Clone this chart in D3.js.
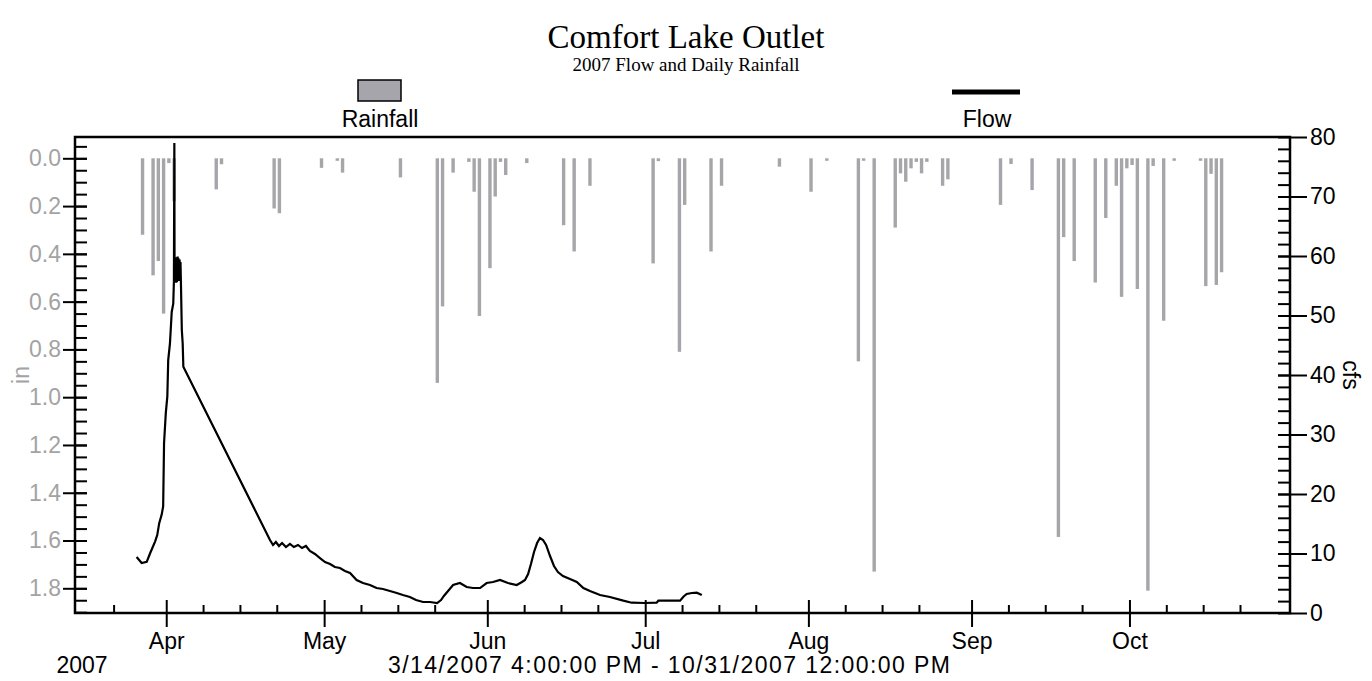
<!DOCTYPE html>
<html>
<head>
<meta charset="utf-8">
<script src="https://cdn.jsdelivr.net/npm/d3@7/dist/d3.min.js"></script>
<style>
  body { margin: 0; background: #fff; }
  svg text { font-family: "Liberation Sans", Arial, sans-serif; }
</style>
</head>
<body>
<div id="chart"></div>
<script>
//Datos - lluvia diaria (in)
const rainDates = ['2007-03-27','2007-03-29','2007-03-30','2007-03-31','2007-04-01','2007-04-02',
  '2007-04-10','2007-04-11','2007-04-21','2007-04-22','2007-04-30','2007-05-03','2007-05-04',
  '2007-05-15','2007-05-22','2007-05-23','2007-05-25','2007-05-28','2007-05-29','2007-05-30',
  '2007-06-01','2007-06-02','2007-06-03','2007-06-04','2007-06-08','2007-06-15','2007-06-17',
  '2007-06-20','2007-07-02','2007-07-03','2007-07-07','2007-07-08','2007-07-13','2007-07-15',
  '2007-07-26','2007-08-01','2007-08-04','2007-08-10','2007-08-11','2007-08-13','2007-08-17',
  '2007-08-18','2007-08-19','2007-08-20','2007-08-21','2007-08-22','2007-08-23','2007-08-26',
  '2007-08-27','2007-09-06','2007-09-08','2007-09-12','2007-09-17','2007-09-18','2007-09-20',
  '2007-09-24','2007-09-26','2007-09-28','2007-09-29','2007-09-30','2007-10-01','2007-10-02',
  '2007-10-04','2007-10-05','2007-10-07','2007-10-09','2007-10-14','2007-10-15','2007-10-16',
  '2007-10-17','2007-10-18'];
const rainValues = [0.32,0.49,0.43,0.65,0.02,0.18,
  0.13,0.025,0.21,0.23,0.04,0.01,0.06,
  0.08,0.94,0.62,0.06,0.015,0.14,0.66,
  0.46,0.16,0.015,0.07,0.02,0.28,0.39,
  0.115,0.44,0.012,0.81,0.195,0.39,0.115,
  0.035,0.14,0.01,0.85,0.01,1.73,0.29,
  0.063,0.098,0.042,0.015,0.063,0.015,0.115,
  0.088,0.195,0.024,0.133,1.585,0.33,0.43,
  0.52,0.25,0.115,0.58,0.042,0.028,0.547,
  1.81,0.032,0.68,0.01,0.01,0.535,0.065,
  0.53,0.477];

//Datos - caudal (cfs)
const flowTimes = ['2007-03-26 09:00','2007-03-27 08:00','2007-03-28 07:00','2007-03-28 22:00',
  '2007-03-29 21:00','2007-03-30 07:00','2007-03-30 16:00','2007-03-31 03:00','2007-03-31 10:00',
  '2007-03-31 14:00','2007-03-31 22:00','2007-04-01 05:00','2007-04-01 09:00','2007-04-01 17:00',
  '2007-04-02 01:00','2007-04-02 08:00','2007-04-02 11:00','2007-04-02 13:00','2007-04-02 14:00',
  '2007-04-02 17:00','2007-04-02 20:00','2007-04-02 23:00','2007-04-03 01:00','2007-04-03 04:00',
  '2007-04-03 06:00','2007-04-03 08:00','2007-04-03 10:00','2007-04-03 13:00','2007-04-03 15:00',
  '2007-04-03 17:00','2007-04-03 19:00','2007-04-03 23:00','2007-04-04 03:00','2007-04-04 06:00',
  '2007-04-20 17:00','2007-04-21 07:00','2007-04-21 20:00','2007-04-22 10:00','2007-04-23 00:00',
  '2007-04-23 18:00','2007-04-24 12:00','2007-04-25 06:00','2007-04-26 01:00','2007-04-26 19:00',
  '2007-04-27 13:00','2007-04-28 07:00','2007-04-29 06:00','2007-04-30 05:00','2007-05-01 04:00',
  '2007-05-02 03:00','2007-05-03 01:00','2007-05-04 00:00','2007-05-04 23:00','2007-05-05 22:00',
  '2007-05-07 04:00','2007-05-08 09:00','2007-05-09 17:00','2007-05-10 23:00','2007-05-12 04:00',
  '2007-05-13 12:00','2007-05-14 19:00','2007-05-15 23:00','2007-05-17 07:00','2007-05-18 11:00',
  '2007-05-19 19:00','2007-05-21 03:00','2007-05-22 11:00','2007-05-23 05:00','2007-05-23 18:00',
  '2007-05-24 13:00','2007-05-25 12:00','2007-05-26 19:00','2007-05-28 02:00','2007-05-29 07:00',
  '2007-05-30 15:00','2007-05-31 21:00','2007-06-02 02:00','2007-06-03 10:00','2007-06-04 22:00',
  '2007-06-06 14:00','2007-06-07 14:00','2007-06-08 04:00','2007-06-08 18:00','2007-06-09 07:00',
  '2007-06-09 21:00','2007-06-10 11:00','2007-06-11 00:00','2007-06-11 14:00','2007-06-12 04:00',
  '2007-06-12 22:00','2007-06-13 16:00','2007-06-14 10:00','2007-06-15 09:00','2007-06-16 17:00',
  '2007-06-18 00:00','2007-06-19 06:00','2007-06-20 12:00','2007-06-22 10:00','2007-06-24 07:00',
  '2007-06-26 20:00','2007-06-28 10:00','2007-06-30 23:00','2007-07-03 04:00','2007-07-03 12:00',
  '2007-07-05 17:00','2007-07-07 15:00','2007-07-08 06:00','2007-07-08 21:00','2007-07-09 21:00',
  '2007-07-10 19:00','2007-07-11 18:00'];
const flowValues = [9.4,8.4,8.6,10.0,
  12.0,13.1,15.1,16.5,17.9,
  28.5,33.6,36.4,42.5,45.3,
  50.6,52.0,55.7,79.0,57.0,
  59.5,55.5,59.8,55.6,59.9,
  56.0,59.6,55.8,59.4,56.2,
  59.0,55.5,47.6,45.3,41.4,
  12.27,11.43,11.93,11.26,11.76,
  11.09,11.60,11.09,11.43,10.92,
  11.26,10.42,9.92,9.24,8.57,
  8.24,7.73,7.56,7.06,6.72,
  5.55,5.04,4.71,4.20,4.03,
  3.70,3.36,3.03,2.69,2.18,
  1.85,1.85,1.68,2.18,2.86,
  3.70,4.71,5.04,4.37,4.20,
  4.20,5.04,5.21,5.55,5.04,
  4.71,5.21,5.55,6.55,8.24,
  10.25,11.76,12.61,12.27,11.43,
  9.58,7.90,6.89,6.22,5.71,
  5.21,4.20,3.70,3.03,2.69,
  2.07,1.73,1.68,1.73,2.07,
  2.07,2.07,2.74,3.19,3.36,
  3.41,3.03];

//Ejes
const leftTicks = [0, 0.2, 0.4, 0.6, 0.8, 1.0, 1.2, 1.4, 1.6, 1.8];
const leftMinor = d3.range(-0.05, 1.92, 0.05);
const rightTicks = [0, 10, 20, 30, 40, 50, 60, 70, 80];
const rightMinor = d3.range(2, 80, 2);
const monthTicks = ['2007-04-01','2007-05-01','2007-06-01','2007-07-01','2007-08-01','2007-09-01','2007-10-01'];
const weekTicks = ['2007-03-22','2007-04-08','2007-04-15','2007-04-22','2007-05-08','2007-05-15','2007-05-22',
  '2007-06-08','2007-06-15','2007-06-22','2007-07-08','2007-07-15','2007-07-22','2007-08-08','2007-08-15',
  '2007-08-22','2007-09-08','2007-09-15','2007-09-22','2007-10-08','2007-10-15','2007-10-22'];

const W = 1372, H = 681;
const mLeft = 75, mRight = 1290, mTop = 137, mBottom = 613;
const GREY_TEXT = '#a3a3a3', BAR = '#a6a6aa';

const parseDay = d3.timeParse('%Y-%m-%d');
const parseTime = d3.timeParse('%Y-%m-%d %H:%M');

const svg = d3.select('#chart').append('svg')
  .attr('width', W).attr('height', H)
  .style('background', '#fff');

let x = d3.scaleTime()
  .domain([new Date(2007, 2, 14, 16), new Date(2007, 9, 31, 12)])
  .range([mLeft, mRight]);

let yRain = d3.scaleLinear().domain([0, 1.8]).range([158.3, 588.3]);
let yFlow = d3.scaleLinear().domain([0, 80]).range([mBottom, mTop]);

//Titulo
svg.append('text').attr('x', 686).attr('y', 48).attr('text-anchor', 'middle')
  .style('font-family', '"Liberation Serif", "Times New Roman", serif').style('font-size', '33px')
  .text('Comfort Lake Outlet');
svg.append('text').attr('x', 686).attr('y', 71).attr('text-anchor', 'middle')
  .style('font-family', '"Liberation Serif", "Times New Roman", serif').style('font-size', '19px')
  .text('2007 Flow and Daily Rainfall');

//Leyenda
svg.append('rect').attr('x', 358).attr('y', 80).attr('width', 43).attr('height', 21)
  .attr('fill', '#a5a5ab').attr('stroke', '#000').attr('stroke-width', 1.5);
svg.append('text').attr('x', 380).attr('y', 127).attr('text-anchor', 'middle')
  .style('font-size', '23px').text('Rainfall');
svg.append('line').attr('x1', 952).attr('x2', 1020).attr('y1', 92).attr('y2', 92)
  .attr('stroke', '#000').attr('stroke-width', 5);
svg.append('text').attr('x', 987).attr('y', 127).attr('text-anchor', 'middle')
  .style('font-size', '23px').text('Flow');

//Barras de lluvia
let rain = rainDates.map((d, i) => ({ date: d3.timeHour.offset(parseDay(d), 12), value: rainValues[i] }));
svg.append('g').selectAll('rect')
  .data(rain)
  .enter()
  .append('rect')
    .attr('x', d => x(d.date) - 1.7)
    .attr('y', yRain(0))
    .attr('width', 3.4)
    .attr('height', d => Math.max(yRain(d.value) - yRain(0), 2.5))
    .attr('fill', BAR);

//Linea de caudal
let flow = flowTimes.map((d, i) => ({ date: parseTime(d), value: flowValues[i] }));
svg.append('path')
  .datum(flow)
  .attr('fill', 'none')
  .attr('stroke', '#000')
  .attr('stroke-width', 2.2)
  .attr('stroke-linejoin', 'miter')
  .attr('d', d3.line().x(d => x(d.date)).y(d => yFlow(d.value)));

//Eje izquierdo
let gL = svg.append('g').attr('transform', 'translate(' + mLeft + ',0)')
  .call(d3.axisLeft(yRain).tickValues(leftTicks).tickFormat(d3.format('.1f'))
    .tickSizeInner(12).tickSizeOuter(0).tickPadding(2));
gL.selectAll('.tick line').attr('x1', 12);
gL.selectAll('.tick text').attr('fill', GREY_TEXT).style('font-size', '23px').style('font-family', '"Liberation Sans", Arial, sans-serif');
gL.select('.domain').remove();
svg.append('g').attr('transform', 'translate(' + mLeft + ',0)')
  .call(d3.axisLeft(yRain).tickValues(leftMinor).tickSizeInner(-12).tickSizeOuter(0).tickFormat(''))
  .select('.domain').remove();

//Eje derecho
let gR = svg.append('g').attr('transform', 'translate(' + mRight + ',0)')
  .call(d3.axisRight(yFlow).tickValues(rightTicks).tickSizeInner(17).tickSizeOuter(0).tickPadding(3));
gR.selectAll('.tick line').attr('x1', -12);
gR.selectAll('.tick text').attr('fill', '#000').style('font-size', '23px').style('font-family', '"Liberation Sans", Arial, sans-serif');
gR.select('.domain').remove();
svg.append('g').attr('transform', 'translate(' + mRight + ',0)')
  .call(d3.axisRight(yFlow).tickValues(rightMinor).tickSizeInner(-12).tickSizeOuter(0).tickFormat(''))
  .select('.domain').remove();

//Eje inferior
let gB = svg.append('g').attr('transform', 'translate(0,' + mBottom + ')')
  .call(d3.axisBottom(x).tickValues(monthTicks.map(parseDay)).tickFormat(d3.timeFormat('%b'))
    .tickSizeInner(14).tickSizeOuter(0).tickPadding(6));
gB.selectAll('.tick line').attr('y1', -13);
gB.selectAll('.tick text').attr('fill', '#000').style('font-size', '23px').style('font-family', '"Liberation Sans", Arial, sans-serif');
gB.select('.domain').remove();
svg.append('g').attr('transform', 'translate(0,' + mBottom + ')')
  .call(d3.axisBottom(x).tickValues(weekTicks.map(parseDay)).tickSizeInner(-8).tickSizeOuter(0).tickFormat(''))
  .select('.domain').remove();

svg.selectAll('.tick line').attr('stroke', '#000').attr('stroke-width', 2);

//Marco
svg.append('path')
  .attr('d', 'M' + mLeft + ',' + mTop + 'H' + mRight + 'V' + mBottom + 'H' + mLeft + 'Z')
  .attr('fill', 'none').attr('stroke', '#000').attr('stroke-width', 2.5);

//Etiquetas de ejes
svg.append('text').attr('transform', 'translate(29,375) rotate(-90)').attr('text-anchor', 'middle')
  .attr('fill', GREY_TEXT).style('font-size', '23px').text('in');
svg.append('text').attr('transform', 'translate(1343,375) rotate(90)').attr('text-anchor', 'middle')
  .attr('fill', '#000').style('font-size', '23px').text('cfs');
svg.append('text').attr('x', 82).attr('y', 673).attr('text-anchor', 'middle')
  .style('font-size', '23px').text('2007');
svg.append('text').attr('x', 669).attr('y', 673).attr('text-anchor', 'middle')
  .attr('textLength', 562).attr('lengthAdjust', 'spacing')
  .style('font-size', '23px').text('3/14/2007 4:00:00 PM - 10/31/2007 12:00:00 PM');
</script>
</body>
</html>
